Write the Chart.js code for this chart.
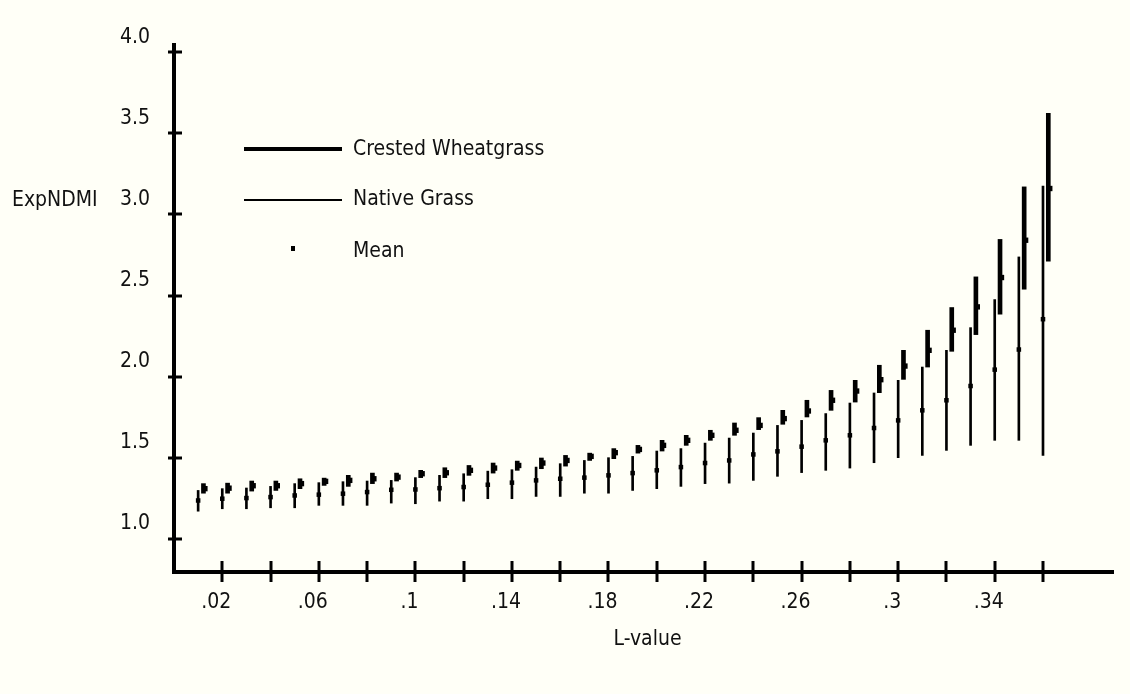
<!DOCTYPE html>
<html>
<head>
<meta charset="utf-8">
<script src="https://cdn.jsdelivr.net/npm/chart.js@4.4.0/dist/chart.umd.min.js"></script>
<style>
html,body{margin:0;padding:0;background:#FFFFF7;}
#wrap{width:1130px;height:694px;}
</style>
</head>
<body>
<div id="wrap"><canvas id="c" width="1130" height="694"></canvas></div>
<script>
// ---- data ----
const lValues = [0.01,0.02,0.03,0.04,0.05,0.06,0.07,0.08,0.09,0.10,0.11,0.12,0.13,0.14,0.15,0.16,0.17,0.18,
                 0.19,0.20,0.21,0.22,0.23,0.24,0.25,0.26,0.27,0.28,0.29,0.30,0.31,0.32,0.33,0.34,0.35,0.36];

const nativeLow  = [1.170,1.185,1.185,1.191,1.191,1.206,1.206,1.206,1.220,1.216,1.232,1.232,1.247,1.247,1.261,1.261,1.281,1.281,
                    1.298,1.309,1.323,1.340,1.343,1.360,1.385,1.408,1.422,1.436,1.469,1.500,1.514,1.545,1.576,1.607,1.607,1.514];
const nativeHigh = [1.298,1.309,1.313,1.323,1.340,1.346,1.352,1.356,1.360,1.377,1.391,1.401,1.417,1.426,1.442,1.463,1.483,1.500,
                    1.508,1.541,1.556,1.590,1.621,1.652,1.699,1.730,1.772,1.837,1.899,1.977,2.059,2.162,2.302,2.475,2.738,3.175];
const nativeMean = [1.236,1.247,1.251,1.257,1.267,1.272,1.278,1.288,1.302,1.304,1.312,1.319,1.333,1.346,1.360,1.370,1.377,1.391,
                    1.405,1.422,1.442,1.467,1.483,1.520,1.539,1.568,1.607,1.638,1.683,1.730,1.792,1.854,1.942,2.043,2.167,2.354];

const crestedLow  = [1.281,1.281,1.294,1.298,1.309,1.329,1.323,1.340,1.356,1.377,1.377,1.391,1.405,1.422,1.432,1.448,1.483,1.494,
                     1.528,1.541,1.576,1.607,1.638,1.673,1.706,1.751,1.792,1.843,1.901,1.983,2.059,2.156,2.259,2.385,2.539,2.712];
const crestedHigh = [1.340,1.343,1.356,1.356,1.370,1.374,1.391,1.405,1.405,1.422,1.438,1.452,1.467,1.479,1.498,1.514,1.528,1.556,
                     1.576,1.607,1.638,1.669,1.714,1.747,1.792,1.854,1.915,1.977,2.070,2.162,2.286,2.426,2.615,2.846,3.170,3.623];
const crestedMean = [1.309,1.312,1.327,1.327,1.340,1.354,1.360,1.370,1.380,1.401,1.407,1.422,1.436,1.452,1.467,1.483,1.508,1.531,
                     1.551,1.576,1.607,1.638,1.669,1.699,1.741,1.788,1.854,1.911,1.981,2.065,2.162,2.286,2.430,2.611,2.841,3.160];

const xTickValues = [0.02,0.04,0.06,0.08,0.10,0.12,0.14,0.16,0.18,0.20,0.22,0.24,0.26,0.28,0.30,0.32,0.34,0.36];
const xTickLabels = ['.02','','.06','','.1','','.14','','.18','','.22','','.26','','.3','','.34',''];
const yTickValues = [1.0,1.5,2.0,2.5,3.0,3.5,4.0];
const yTickLabels = ['1.0','1.5','2.0','2.5','3.0','3.5','4.0'];

const seriesNames = ['Crested Wheatgrass','Native Grass','Mean'];
const xTitle = 'L-value';
const yTitle = 'ExpNDMI';

// ---- style ----
const FONT = "'DejaVu Sans Condensed','Liberation Sans Narrow',sans-serif";
const FS = 21;
const INK = '#000000';
const TXT = '#111111';
const CRESTED_SHIFT = 0.0022;   // side-by-side display shift (x units)
const CRESTED_MEAN_SHIFT = 0.0028;

const nativeBars = lValues.map((x,i)=>({x:x, y:[nativeLow[i], nativeHigh[i]]}));
const crestedBars = lValues.map((x,i)=>({x:x+CRESTED_SHIFT, y:[crestedLow[i], crestedHigh[i]]}));
const nativeMeans = lValues.map((x,i)=>({x:x, y:nativeMean[i]}));
const crestedMeans = lValues.map((x,i)=>({x:x+CRESTED_MEAN_SHIFT, y:crestedMean[i]}));

const tickMarks = {
  id:'tickMarks',
  afterDraw(chart){
    const ctx = chart.ctx, a = chart.chartArea;
    const xs = chart.scales.x, ys = chart.scales.y;
    ctx.save();
    ctx.strokeStyle = INK; ctx.lineWidth = 3;
    xs.ticks.forEach(t=>{
      const px = Math.round(xs.getPixelForValue(t.value));
      ctx.beginPath(); ctx.moveTo(px, a.bottom-11); ctx.lineTo(px, a.bottom+10); ctx.stroke();
    });
    ys.ticks.forEach(t=>{
      const py = Math.round(ys.getPixelForValue(t.value));
      ctx.beginPath(); ctx.moveTo(a.left-6, py); ctx.lineTo(a.left+8, py); ctx.stroke();
    });
    // axis titles
    ctx.fillStyle = TXT;
    ctx.font = FS + 'px ' + FONT;
    ctx.textBaseline = 'middle';
    ctx.textAlign = 'left';
    ctx.fillText(yTitle, 12, ys.getPixelForValue(3.0) - 14);
    ctx.textAlign = 'center';
    ctx.fillText(xTitle, (a.left + a.right)/2 + 4, a.bottom + 68);
    // legend
    const lx0 = a.left + 70, lx1 = a.left + 168, tx = a.left + 179;
    const rows = [a.top + 104, a.top + 155, a.top + 203];
    ctx.lineWidth = 4;
    ctx.beginPath(); ctx.moveTo(lx0, rows[0]); ctx.lineTo(lx1, rows[0]); ctx.stroke();
    ctx.lineWidth = 2;
    ctx.beginPath(); ctx.moveTo(lx0, rows[1]); ctx.lineTo(lx1, rows[1]); ctx.stroke();
    ctx.fillStyle = INK;
    ctx.fillRect((lx0+lx1)/2 - 2, rows[2] - 2, 4, 5);
    ctx.fillStyle = TXT;
    ctx.textAlign = 'left';
    ctx.fillText(seriesNames[0], tx, rows[0] + 1);
    ctx.fillText(seriesNames[1], tx, rows[1] + 0);
    ctx.fillText(seriesNames[2], tx, rows[2] + 4);
    ctx.restore();
  }
};

new Chart(document.getElementById('c'), {
  type: 'bar',
  data: {
    datasets: [
      {label: seriesNames[1], type:'bar', data: nativeBars, backgroundColor: INK, borderWidth:0, borderSkipped:false, barThickness:2, grouped:false, order:3},
      {label: seriesNames[0], type:'bar', data: crestedBars, backgroundColor: INK, borderWidth:0, borderSkipped:false, barThickness:4, grouped:false, order:2},
      {label: seriesNames[2]+' native', type:'scatter', data: nativeMeans, pointStyle:'rect', radius:3.2, backgroundColor: INK, borderWidth:0, order:1},
      {label: seriesNames[2]+' crested', type:'scatter', data: crestedMeans, pointStyle:'rect', radius:3.8, backgroundColor: INK, borderWidth:0, order:0}
    ]
  },
  options: {
    responsive: false,
    animation: false,
    layout: {padding: {left:0, right:17, top:45, bottom:0}},
    plugins: {legend:{display:false}, tooltip:{enabled:false}},
    scales: {
      x: {
        type:'linear', min:0, max:0.389, offset:false,
        grid:{display:false, drawTicks:true, tickLength:10},
        border:{display:true, color:INK, width:4},
        afterBuildTicks: s => { s.ticks = xTickValues.map(v=>({value:v})); },
        afterFit: s => { s.height = 122; },
        ticks:{autoSkip:false, maxRotation:0, minRotation:0, padding:8, labelOffset:-6, color:TXT,
               font:{family:FONT, size:FS}, callback:(v,i)=>xTickLabels[i]}
      },
      y: {
        type:'linear', min:0.795, max:4.045, beginAtZero:false,
        grid:{display:false, drawTicks:true, tickLength:6},
        border:{display:true, color:INK, width:4},
        afterBuildTicks: s => { s.ticks = yTickValues.map(v=>({value:v})); },
        afterFit: s => { s.width = 174; },
        ticks:{padding:18, labelOffset:-15, color:TXT, font:{family:FONT, size:FS}, callback:(v,i)=>yTickLabels[i]}
      }
    }
  },
  plugins:[tickMarks]
});
</script>
</body>
</html>
